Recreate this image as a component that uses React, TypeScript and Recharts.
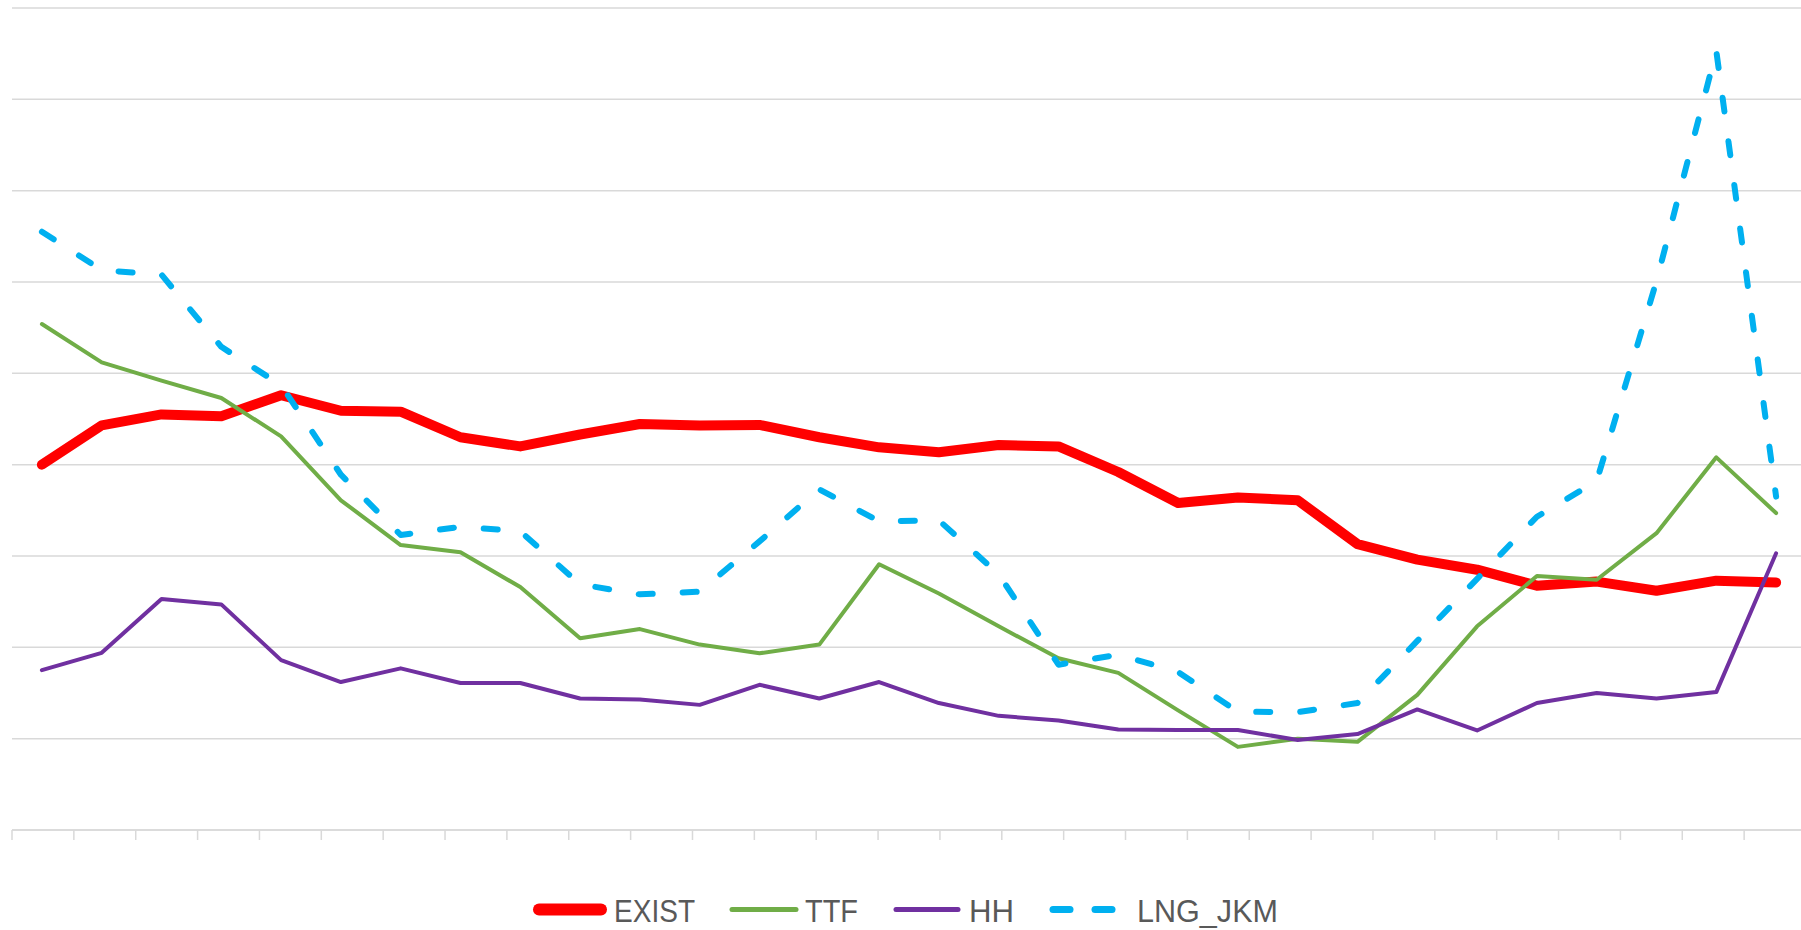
import React from 'react';
import { LineChart, Line, XAxis, YAxis, CartesianGrid, Legend } from 'recharts';

// ---- data ----
const periods = ['1', '2', '3', '4', '5', '6', '7', '8', '9', '10', '11', '12', '13', '14', '15',
  '16', '17', '18', '19', '20', '21', '22', '23', '24', '25', '26', '27', '28', '29', '30'];

const exist = [40.0, 44.3, 45.5, 45.3, 47.6, 45.9, 45.8, 43.0, 42.0, 43.3, 44.45, 44.3, 44.35, 43.0, 41.9,
  41.35, 42.15, 42.0, 39.2, 35.8, 36.4, 36.1, 31.3, 29.6, 28.5, 26.75, 27.2, 26.2, 27.3, 27.1];

const ttf = [55.4, 51.2, 49.2, 47.3, 43.1, 36.1, 31.2, 30.4, 26.6, 21.0, 22.0, 20.3, 19.35, 20.3, 29.1,
  25.9, 22.3, 18.8, 17.2, 13.1, 9.1, 10.0, 9.65, 14.8, 22.3, 27.8, 27.4, 32.5, 40.8, 34.7];

const hh = [17.5, 19.4, 25.3, 24.7, 18.6, 16.2, 17.7, 16.1, 16.1, 14.4, 14.3, 13.7, 15.9, 14.4, 16.2,
  13.9, 12.5, 12.0, 11.0, 10.95, 10.95, 9.85, 10.5, 13.2, 10.9, 13.9, 15.0, 14.4, 15.1, 30.3];

const lngJkm = [65.5, 61.3, 60.8, 52.9, 48.7, 38.9, 32.3, 33.2, 32.7, 26.9, 25.8, 26.1, 31.6, 37.3, 33.8,
  33.9, 28.0, 18.1, 19.2, 17.3, 12.95, 12.9, 13.9, 20.7, 27.5, 34.3, 38.2, 60.1, 85.3, 36.5];

const yTicks = [0, 10, 20, 30, 40, 50, 60, 70, 80, 90];
const boundaryTicks = [0, 1, 2, 3, 4, 5, 6, 7, 8, 9, 10, 11, 12, 13, 14, 15, 16, 17, 18, 19, 20,
  21, 22, 23, 24, 25, 26, 27, 28, 29, 30];

const seriesNames = ['EXIST', 'TTF', 'HH', 'LNG_JKM'];

const data = periods.map((p, i) => ({
  period: p,
  EXIST: exist[i],
  TTF: ttf[i],
  HH: hh[i],
  LNG_JKM: lngJkm[i],
}));

// ---- styles ----
const GRID = '#d9d9d9';
const TEXT = '#595959';
const HALF_BAND = 29.9;

const legendLayout = [
  { name: 'EXIST', color: '#FF0000', x1: 539, x2: 601, w: 12, dashed: false, tx: 614, tw: 81 },
  { name: 'TTF', color: '#70AD47', x1: 732, x2: 796, w: 5, dashed: false, tx: 805, tw: 53 },
  { name: 'HH', color: '#7030A0', x1: 896, x2: 958, w: 5, dashed: false, tx: 969, tw: 45 },
  { name: 'LNG_JKM', color: '#00B0F0', x1: 1053, x2: 1112, w: 7, dashed: true, tx: 1137, tw: 141 },
];

const renderLegend = () => (
  <svg width={1801} height={60} style={{ display: 'block' }}>
    {legendLayout.map((it) => (
      <g key={it.name}>
        {it.dashed ? (
          <g>
            <line x1={it.x1} y1={39.5} x2={it.x1 + 17} y2={39.5} stroke={it.color} strokeWidth={it.w} strokeLinecap="round" />
            <line x1={it.x2 - 17} y1={39.5} x2={it.x2} y2={39.5} stroke={it.color} strokeWidth={it.w} strokeLinecap="round" />
          </g>
        ) : (
          <line x1={it.x1} y1={39.5} x2={it.x2} y2={39.5} stroke={it.color} strokeWidth={it.w} strokeLinecap="round" />
        )}
        <text
          x={it.tx}
          y={52}
          fill={TEXT}
          fontSize={32}
          fontFamily="'Liberation Sans', Arial, sans-serif"
          textLength={it.tw}
          lengthAdjust="spacingAndGlyphs"
        >
          {it.name}
        </text>
      </g>
    ))}
  </svg>
);

export default function App() {
  return (
    <div
      style={{
        position: 'absolute',
        left: 0,
        top: 0,
        width: 1801,
        height: 930,
        overflow: 'hidden',
        background: '#ffffff',
      }}
    >
      <LineChart
        width={1830}
        height={930}
        data={data}
        margin={{ top: 8, right: 24, left: 12, bottom: 90 }}
      >
        <CartesianGrid vertical={false} stroke={GRID} strokeWidth={1.5} />
        <XAxis dataKey="period" hide height={0} padding={{ left: HALF_BAND, right: HALF_BAND }} />
        <XAxis
          xAxisId="bounds"
          type="number"
          domain={[0, 30]}
          ticks={boundaryTicks}
          allowDataOverflow
          height={10}
          tickSize={10}
          tickFormatter={() => ''}
          axisLine={{ stroke: GRID, strokeWidth: 1.5 }}
          tickLine={{ stroke: GRID, strokeWidth: 1.5 }}
          interval={0}
        />
        <YAxis hide domain={[0, 90]} ticks={yTicks} />
        <Legend
          verticalAlign="middle"
          layout="horizontal"
          wrapperStyle={{ left: 0, top: 870, width: 1801, height: 60 }}
          content={renderLegend}
        />
        <Line
          dataKey={seriesNames[0]}
          name={seriesNames[0]}
          type="linear"
          stroke="#FF0000"
          strokeWidth={10}
          strokeLinecap="round"
          strokeLinejoin="round"
          dot={false}
          activeDot={false}
          isAnimationActive={false}
        />
        <Line
          dataKey={seriesNames[1]}
          name={seriesNames[1]}
          type="linear"
          stroke="#70AD47"
          strokeWidth={4}
          strokeLinecap="round"
          strokeLinejoin="round"
          dot={false}
          activeDot={false}
          isAnimationActive={false}
        />
        <Line
          dataKey={seriesNames[2]}
          name={seriesNames[2]}
          type="linear"
          stroke="#7030A0"
          strokeWidth={4}
          strokeLinecap="round"
          strokeLinejoin="round"
          dot={false}
          activeDot={false}
          isAnimationActive={false}
        />
        <Line
          dataKey={seriesNames[3]}
          name={seriesNames[3]}
          type="linear"
          stroke="#00B0F0"
          strokeWidth={6}
          strokeDasharray="14 30"
          strokeLinecap="round"
          strokeLinejoin="round"
          dot={false}
          activeDot={false}
          isAnimationActive={false}
        />
      </LineChart>
    </div>
  );
}
